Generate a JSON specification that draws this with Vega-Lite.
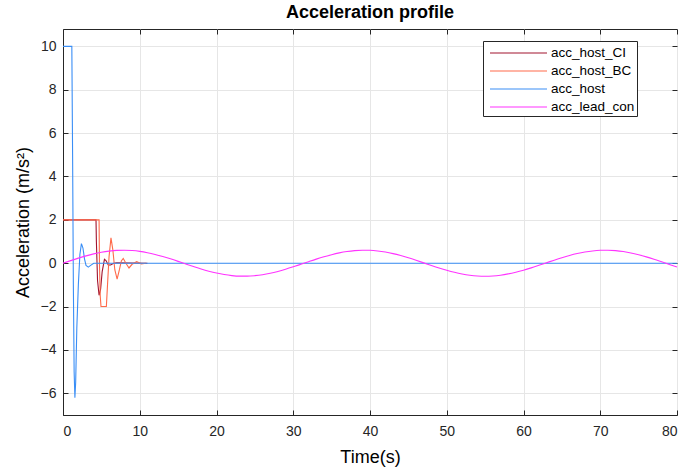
{
  "$schema": "https://vega.github.io/schema/vega-lite/v6.json",
  "autosize": "none",
  "width": 614,
  "height": 386,
  "padding": {"left": 63, "top": 29, "right": 8, "bottom": 56},
  "background": "white",
  "title": {"text": "Acceleration profile", "font": "Liberation Sans", "fontSize": 18, "fontWeight": "bold", "color": "#000000", "offset": 7, "anchor": "middle"},
  "config": {
    "view": {"stroke": "#262626", "strokeWidth": 1},
    "axis": {"labelFont": "Liberation Sans", "titleFont": "Liberation Sans", "labelFontSize": 14, "titleFontSize": 18, "titleFontWeight": "normal", "labelColor": "#262626", "titleColor": "#000000", "gridColor": "#E6E6E6", "gridWidth": 1, "domainColor": "#262626", "tickColor": "#262626", "tickSize": -5, "labelPadding": 12},
    "legend": {"labelFont": "Liberation Sans", "labelFontSize": 13.5, "labelColor": "#000000"}
  },
  "resolve": {"axis": {"x": "independent", "y": "independent"}},
  "datasets": {
    "acc": [
      {"t": 0, "a": 2, "series": "acc_host_CI"},
      {"t": 4.3, "a": 2, "series": "acc_host_CI"},
      {"t": 4.35, "a": 1, "series": "acc_host_CI"},
      {"t": 4.5, "a": -0.8, "series": "acc_host_CI"},
      {"t": 4.7, "a": -1.48, "series": "acc_host_CI"},
      {"t": 4.9, "a": -1.2, "series": "acc_host_CI"},
      {"t": 5.1, "a": -0.4, "series": "acc_host_CI"},
      {"t": 5.4, "a": 0.18, "series": "acc_host_CI"},
      {"t": 5.6, "a": 0.12, "series": "acc_host_CI"},
      {"t": 5.9, "a": -0.08, "series": "acc_host_CI"},
      {"t": 6.2, "a": -0.08, "series": "acc_host_CI"},
      {"t": 6.6, "a": 0.0, "series": "acc_host_CI"},
      {"t": 7.0, "a": 0.02, "series": "acc_host_CI"},
      {"t": 11, "a": 0, "series": "acc_host_CI"},
      {"t": 0, "a": 2, "series": "acc_host_BC"},
      {"t": 4.7, "a": 2, "series": "acc_host_BC"},
      {"t": 4.75, "a": 0, "series": "acc_host_BC"},
      {"t": 4.85, "a": -1.5, "series": "acc_host_BC"},
      {"t": 4.95, "a": -2, "series": "acc_host_BC"},
      {"t": 5.65, "a": -2, "series": "acc_host_BC"},
      {"t": 5.8, "a": -1, "series": "acc_host_BC"},
      {"t": 6.0, "a": 0.3, "series": "acc_host_BC"},
      {"t": 6.25, "a": 1.17, "series": "acc_host_BC"},
      {"t": 6.5, "a": 0.6, "series": "acc_host_BC"},
      {"t": 6.75, "a": -0.3, "series": "acc_host_BC"},
      {"t": 7.05, "a": -0.73, "series": "acc_host_BC"},
      {"t": 7.35, "a": -0.3, "series": "acc_host_BC"},
      {"t": 7.6, "a": 0.1, "series": "acc_host_BC"},
      {"t": 7.85, "a": 0.22, "series": "acc_host_BC"},
      {"t": 8.2, "a": 0.0, "series": "acc_host_BC"},
      {"t": 8.6, "a": -0.22, "series": "acc_host_BC"},
      {"t": 9.0, "a": -0.05, "series": "acc_host_BC"},
      {"t": 9.6, "a": 0.07, "series": "acc_host_BC"},
      {"t": 10.2, "a": -0.03, "series": "acc_host_BC"},
      {"t": 10.8, "a": 0, "series": "acc_host_BC"},
      {"t": 0, "a": 10, "series": "acc_host"},
      {"t": 1.15, "a": 10, "series": "acc_host"},
      {"t": 1.25, "a": 5, "series": "acc_host"},
      {"t": 1.35, "a": -1, "series": "acc_host"},
      {"t": 1.45, "a": -5, "series": "acc_host"},
      {"t": 1.55, "a": -6.2, "series": "acc_host"},
      {"t": 1.65, "a": -5.5, "series": "acc_host"},
      {"t": 1.8, "a": -3, "series": "acc_host"},
      {"t": 2.0, "a": -1, "series": "acc_host"},
      {"t": 2.2, "a": 0.4, "series": "acc_host"},
      {"t": 2.4, "a": 0.9, "series": "acc_host"},
      {"t": 2.6, "a": 0.7, "series": "acc_host"},
      {"t": 2.8, "a": 0.2, "series": "acc_host"},
      {"t": 3.0, "a": -0.1, "series": "acc_host"},
      {"t": 3.3, "a": -0.18, "series": "acc_host"},
      {"t": 3.6, "a": -0.1, "series": "acc_host"},
      {"t": 4.0, "a": 0, "series": "acc_host"},
      {"t": 80, "a": 0, "series": "acc_host"}
    ],
    "lead": [
      {"t": 0, "a": 0}, {"t": 1, "a": 0.119}, {"t": 2, "a": 0.234}, {"t": 3, "a": 0.339}, {"t": 4, "a": 0.430},
      {"t": 5, "a": 0.505}, {"t": 6, "a": 0.559}, {"t": 7, "a": 0.591}, {"t": 8, "a": 0.600}, {"t": 9, "a": 0.584},
      {"t": 10, "a": 0.546}, {"t": 11, "a": 0.485}, {"t": 12, "a": 0.405}, {"t": 13, "a": 0.309}, {"t": 14, "a": 0.201},
      {"t": 15, "a": 0.085}, {"t": 16, "a": -0.035}, {"t": 17, "a": -0.153}, {"t": 18, "a": -0.266}, {"t": 19, "a": -0.367},
      {"t": 20, "a": -0.454}, {"t": 21, "a": -0.523}, {"t": 22, "a": -0.571}, {"t": 23, "a": -0.596}, {"t": 24, "a": -0.598},
      {"t": 25, "a": -0.575}, {"t": 26, "a": -0.530}, {"t": 27, "a": -0.464}, {"t": 28, "a": -0.379}, {"t": 29, "a": -0.279},
      {"t": 30, "a": -0.168}, {"t": 31, "a": -0.050}, {"t": 32, "a": 0.070}, {"t": 33, "a": 0.187}, {"t": 34, "a": 0.296},
      {"t": 35, "a": 0.394}, {"t": 36, "a": 0.476}, {"t": 37, "a": 0.539}, {"t": 38, "a": 0.581}, {"t": 39, "a": 0.599},
      {"t": 40, "a": 0.594}, {"t": 41, "a": 0.564}, {"t": 42, "a": 0.513}, {"t": 43, "a": 0.441}, {"t": 44, "a": 0.351},
      {"t": 45, "a": 0.247}, {"t": 46, "a": 0.134}, {"t": 47, "a": 0.015}, {"t": 48, "a": -0.105}, {"t": 49, "a": -0.220},
      {"t": 50, "a": -0.326}, {"t": 51, "a": -0.420}, {"t": 52, "a": -0.497}, {"t": 53, "a": -0.554}, {"t": 54, "a": -0.589},
      {"t": 55, "a": -0.600}, {"t": 56, "a": -0.588}, {"t": 57, "a": -0.552}, {"t": 58, "a": -0.494}, {"t": 59, "a": -0.416},
      {"t": 60, "a": -0.322}, {"t": 61, "a": -0.215}, {"t": 62, "a": -0.099}, {"t": 63, "a": 0.020}, {"t": 64, "a": 0.139},
      {"t": 65, "a": 0.252}, {"t": 66, "a": 0.355}, {"t": 67, "a": 0.444}, {"t": 68, "a": 0.515}, {"t": 69, "a": 0.566},
      {"t": 70, "a": 0.594}, {"t": 71, "a": 0.599}, {"t": 72, "a": 0.579}, {"t": 73, "a": 0.537}, {"t": 74, "a": 0.474},
      {"t": 75, "a": 0.390}, {"t": 76, "a": 0.292}, {"t": 77, "a": 0.182}, {"t": 78, "a": 0.064}, {"t": 79, "a": -0.056},
      {"t": 80, "a": -0.173}
    ]
  },
  "layer": [
    {
      "data": {"name": "acc"},
      "mark": {"type": "line", "strokeWidth": 1.1},
      "encoding": {
        "x": {"field": "t", "type": "quantitative", "scale": {"domain": [0, 80], "nice": false, "zero": false},
              "axis": {"values": [0, 10, 20, 30, 40, 50, 60, 70, 80], "title": "Time(s)", "titlePadding": 10, "labelPadding": 14}},
        "y": {"field": "a", "type": "quantitative", "scale": {"domain": [-7, 10.8], "nice": false, "zero": false},
              "axis": {"values": [-6, -4, -2, 0, 2, 4, 6, 8, 10], "title": "Acceleration (m/s²)", "titlePadding": 8}},
        "color": {"field": "series", "type": "nominal",
                  "scale": {"domain": ["acc_host_CI", "acc_host_BC", "acc_host", "acc_lead_con"], "range": ["#A2142F", "#FF6A4A", "#3A8EF6", "#FF33FF"]},
                  "legend": {"title": null, "orient": "none", "legendX": 420, "legendY": 12, "symbolType": "M-0.556,0H5.778", "symbolSize": 324, "symbolStrokeWidth": 1.2, "strokeColor": "#262626", "fillColor": "white", "padding": 2, "rowPadding": 1, "labelOffset": 46, "labelExpr": "datum.label + '\u00a0\u00a0\u00a0\u00a0\u00a0\u00a0\u00a0'"}},
        "detail": {"field": "series"}
      }
    },
    {
      "data": {"name": "lead"},
      "mark": {"type": "line", "strokeWidth": 1.1, "interpolate": "monotone"},
      "encoding": {
        "x": {"field": "t", "type": "quantitative",
              "axis": {"orient": "top", "values": [0, 10, 20, 30, 40, 50, 60, 70, 80], "labels": false, "grid": false, "domain": false, "title": null}},
        "y": {"field": "a", "type": "quantitative",
              "axis": {"orient": "right", "values": [-6, -4, -2, 0, 2, 4, 6, 8, 10], "labels": false, "grid": false, "domain": false, "title": null}},
        "color": {"datum": "acc_lead_con"}
      }
    }
  ]
}
